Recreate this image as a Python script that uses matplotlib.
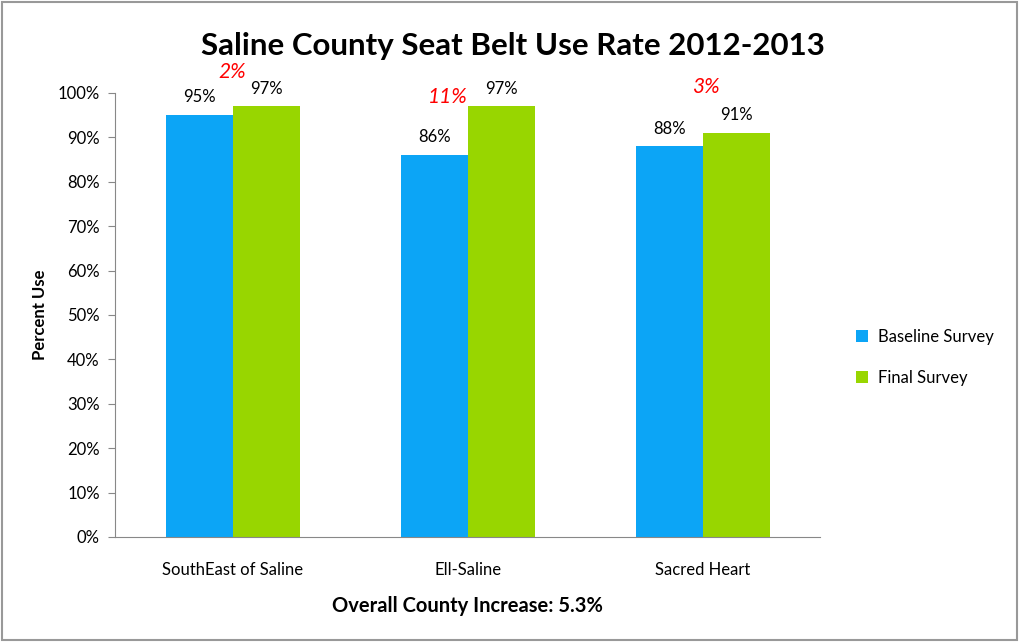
import matplotlib.pyplot as plt
import numpy as np
from matplotlib.patches import Rectangle

plt.rcParams['font.family'] = ['Lato', 'DejaVu Sans']

sites = ['SouthEast of Saline', 'Ell-Saline', 'Sacred Heart']
baseline = [95, 86, 88]
final = [97, 97, 91]
increase = [f - b for b, f in zip(baseline, final)]
# where each increase note sits (x offset from group centre, height in %)
note_dx = [0.0, -0.083, 0.015]
note_y = [104.7, 99.1, 101.4]
overall = 5.3

fig = plt.figure(figsize=(10.19, 6.42), dpi=100)
ax = fig.add_axes([0.1129, 0.1636, 0.692, 0.6916])

x = np.arange(len(sites))
w = 0.285
b1 = ax.bar(x - w/2, baseline, w, color='#0CA5F6', label='Baseline Survey')
b2 = ax.bar(x + w/2, final, w, color='#98D600', label='Final Survey')

for bars, vals in ((b1, baseline), (b2, final)):
    for r, v in zip(bars, vals):
        ax.annotate(f'{v}%', (r.get_x() + r.get_width()/2, v), xytext=(0, 7),
                    textcoords='offset points', ha='center', va='bottom', fontsize=12)

for i, d in enumerate(increase):
    ax.text(x[i] + note_dx[i], note_y[i], f'{d}%', color='red', style='italic',
            ha='center', va='center', fontsize=15)

ax.set_xlim(-0.5, 2.5)
ax.set_ylim(0, 100)
ax.set_yticks(range(0, 101, 10))
ax.set_yticklabels([f'{t}%' for t in range(0, 101, 10)], fontsize=12)
ax.set_xticks(x)
ax.set_xticklabels(sites, fontsize=12)
ax.tick_params(axis='x', length=0, pad=18)
ax.tick_params(axis='y', length=5, color='#888888', pad=6)
for s in ('top', 'right'):
    ax.spines[s].set_visible(False)
for s in ('left', 'bottom'):
    ax.spines[s].set_color('#888888')

ax.set_ylabel('Percent Use', fontsize=12, fontweight='bold', labelpad=7)
ax.set_xlabel(f'Overall County Increase: {overall}%', fontsize=14.5, fontweight='bold', labelpad=13)
fig.text(0.503, 0.928, 'Saline County Seat Belt Use Rate 2012-2013', ha='center', va='center',
         fontsize=22.5, fontweight='bold')

ax.legend(loc='center left', bbox_to_anchor=(1.03, 0.405), frameon=False, fontsize=12,
          handlelength=0.7, handleheight=0.7, labelspacing=1.5, handletextpad=0.6)

fig.patches.append(Rectangle((0.002, 0.003), 0.996, 0.994, transform=fig.transFigure,
                             fill=False, edgecolor='#999999', linewidth=1.5))

fig.savefig('out.png', dpi=100)
